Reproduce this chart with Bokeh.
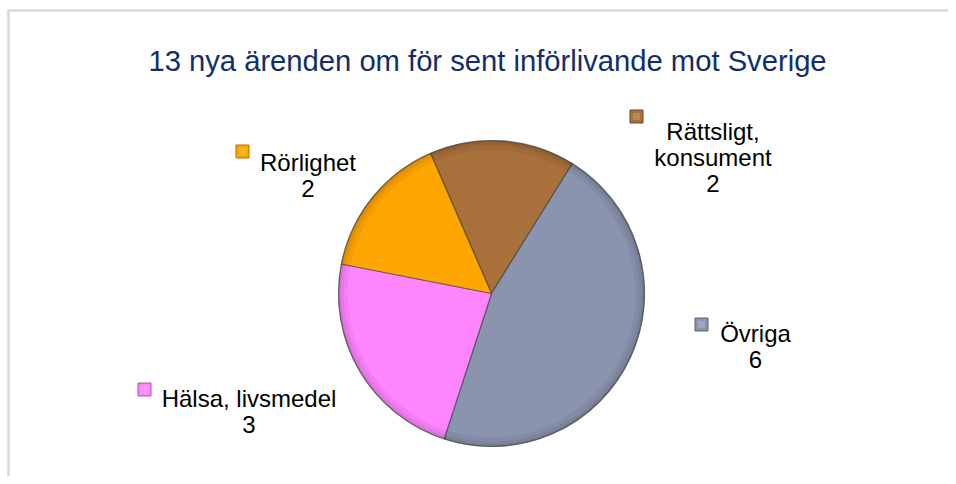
import numpy as np
from bokeh.plotting import figure
from bokeh.models import Range1d, ColumnDataSource
from bokeh.embed import file_html
from bokeh.resources import INLINE
from bokeh.core.properties import value

# ---- data ----
categories = ["Rättsligt, konsument", "Övriga", "Hälsa, livsmedel", "Rörlighet"]
label_lines = [["Rättsligt,", "konsument"], ["Övriga"], ["Hälsa, livsmedel"], ["Rörlighet"]]
counts = [2, 6, 3, 2]
colors = ["#a8703a", "#8a94ae", "#ff85ff", "#ffa500"]
key_edge = ["#6e4520", "#5a6278", "#b050b0", "#b87000"]
title_text = "13 nya ärenden om för sent införlivande mot Sverige"

W, H = 948, 476
def sx(x):  # screenshot x -> data x
    return x
def sy(y):  # screenshot y -> data y
    return H - y

p = figure(width=W, height=H, x_range=Range1d(0, W), y_range=Range1d(0, H),
           output_backend="svg", toolbar_location=None, min_border=0)
p.axis.visible = False
p.grid.visible = False
p.outline_line_color = None
p.background_fill_color = "white"
p.border_fill_color = "white"

# frame
p.line([sx(8), sx(8)], [sy(10), -10], line_color="#d9d9d9", line_width=2.5)
p.line([sx(7), W + 10], [sy(10), sy(10)], line_color="#d9d9d9", line_width=2.5)

# title
p.text([sx(487)], [sy(60)], text=[title_text], text_font=value("Liberation Sans"),
       text_font_size="29.2px", text_color="#112e6c", text_align="center",
       text_baseline="alphabetic")

# pie
cx, cy, R = sx(491), sy(293), 153
total = sum(counts)
offset = -23.5
cw = np.concatenate([[0], np.cumsum(counts)]) / total * 360 + offset
starts = np.radians(90 - cw[:-1])
ends = np.radians(90 - cw[1:])
src = ColumnDataSource(dict(start=starts, end=ends, color=colors, name=categories, count=counts))
p.wedge(x=cx, y=cy, radius=R, start_angle="start", end_angle="end", direction="clock",
        fill_color="color", line_color="#3a3a3a", line_alpha=0.6, line_width=1.2, source=src)
# bevel shading near the rim
for r_in, r_out, a in [(R - 9, R - 5, 0.05), (R - 5, R - 2, 0.10), (R - 2, R, 0.18)]:
    p.annular_wedge(x=cx, y=cy, inner_radius=r_in, outer_radius=r_out, start_angle="start",
                    end_angle="end", direction="clock", fill_color="black", fill_alpha=a,
                    line_color=None, source=src)
p.circle(x=[cx], y=[cy], radius=R, fill_color=None, line_color="#555555", line_alpha=0.5, line_width=1)

# labels (layout positions in screenshot pixels)
key_pos = [(636, 116), (701, 324), (144, 389), (242, 151)]
text_pos = [(712.5, 131), (755, 333), (248.5, 398), (307.5, 162)]
line_h = 26
for i in range(len(categories)):
    kx, ky = key_pos[i]
    p.rect(x=[sx(kx)], y=[sy(ky)], width=13, height=13, fill_color=colors[i],
           line_color=key_edge[i], line_width=1)
    p.rect(x=[sx(kx)], y=[sy(ky)], width=7, height=7, fill_color="white", fill_alpha=0.18,
           line_color=None)
    tx, ty = text_pos[i]
    lines = label_lines[i] + [str(counts[i])]
    xs = [sx(tx)] * len(lines)
    ys = [sy(ty + j * line_h) for j in range(len(lines))]
    p.text(xs, ys, text=lines, text_font=value("Liberation Sans"), text_font_size="24px",
           text_color="black", text_align="center", text_baseline="alphabetic")

open("out.html", "w").write(file_html(p, INLINE))
